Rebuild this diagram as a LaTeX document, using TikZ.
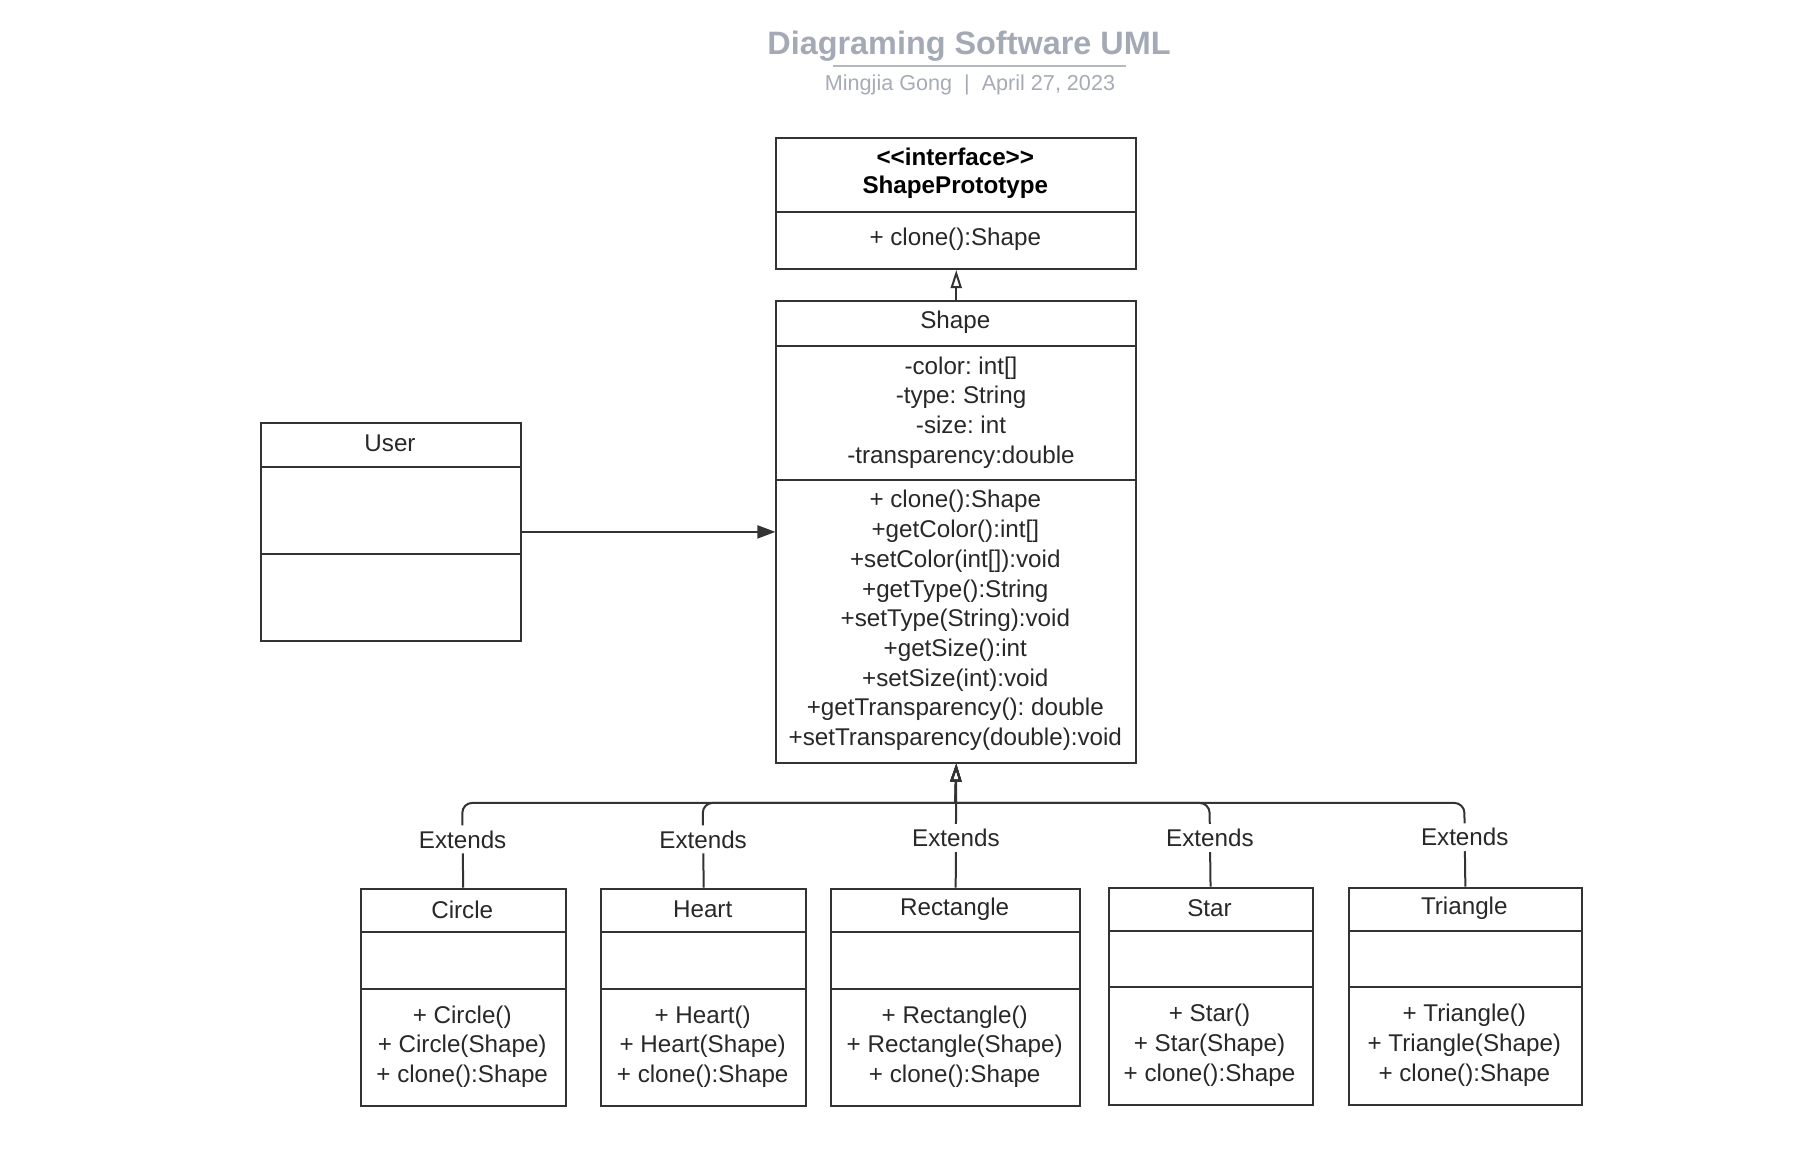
\documentclass[tikz,border=0pt]{standalone}
\usepackage{fontspec}
\setmainfont{Liberation Sans}
\usetikzlibrary{arrows.meta}
\definecolor{linec}{HTML}{333333}
\definecolor{textc}{HTML}{282828}
\definecolor{titlec}{HTML}{A4A9B6}
\definecolor{subc}{HTML}{A7ABB6}
\newcommand{\bodyf}{\fontsize{12.1}{14.85}\selectfont}
\frenchspacing
\begin{document}
\begin{tikzpicture}[x=0.5pt,y=-0.5pt,
  box/.style={draw=linec, line width=1pt, fill=white, inner sep=0pt, anchor=north west, minimum height=108.8pt},
  divl/.style={draw=linec, line width=1pt},
  txt/.style={text=textc, font=\bodyf, align=center, inner sep=0pt},
  lbl/.style={fill=white, text=textc, font=\bodyf, inner sep=2.5pt},
  gen/.style={draw=linec, line width=1pt, -{Triangle[open, length=9pt, width=5.5pt]}},
  genr/.style={draw=linec, line width=1pt, {Triangle[open, length=9pt, width=5.5pt]}-},
  assoc/.style={draw=linec, line width=1pt, -{Triangle[length=9pt, width=6.5pt]}}]
\fill[white] (0,0) rectangle (1796,1175);
\useasboundingbox (0,0) rectangle (1796,1175);
% title
\node[text=titlec, font=\fontsize{16.2}{19}\selectfont\bfseries, inner sep=0pt] (title) at (969,46) {Diagraming Software UML};
\draw[subc!85, line width=1pt] (832.7,66.4) -- (1126,66.4);
\node[text=subc, font=\fontsize{10.8}{13}\selectfont, inner sep=0pt] (sub) at (970,85) {Mingjia Gong\ \ |\ \ April 27, 2023};
% ShapePrototype
\node[box, minimum width=179.85pt, minimum height=65.3pt] (proto) at (775.4,137.4) {};
\draw[divl] (775.4,211.9) -- (1135.1,211.9);
\node[txt, font=\fontsize{12.1}{14.2}\selectfont\bfseries, text=black] (protot) at (955.3,173.5) {<{}<interface>{}>\\ShapePrototype};
\node[txt] (protom) at (955.3,239.5) {+ clone():Shape};
% Shape
\node[box, minimum width=179.85pt, minimum height=230.8pt] (shape) at (775.4,300.1) {};
\draw[divl] (775.4,345.9) -- (1135.1,345.9);
\draw[divl] (775.4,479.9) -- (1135.1,479.9);
\node[txt] (shapet) at (955.3,322) {Shape};
\node[txt] (shapea) at (961,412.5) {-color: int[]\\-type: String\\-size: int\\-transparency:double};
\node[txt] (shapem) at (955.3,620.5) {+ clone():Shape\\+getColor():int[]\\+setColor(int[]):void\\+getType():String\\+setType(String):void\\+getSize():int\\+setSize(int):void\\+getTransparency(): double\\+setTransparency(double):void};
% User
\node[box, minimum width=130pt, minimum height=109.4pt] (user) at (260,421.5) {};
\draw[divl] (260,467.3) -- (520,467.3);
\draw[divl] (260,554.4) -- (520,554.4);
\node[txt] (usert) at (390,443) {User};
% children
\node[box, minimum width=102.5pt] (circle) at (359.7,887.7) {};
\draw[divl] (359.7,932.3) -- (564.7,932.3);
\draw[divl] (359.7,988.5) -- (564.7,988.5);
\node[txt] (circlet) at (462.2,909.5) {Circle};
\node[txt] (circlem) at (462.2,1046.5) {+ Circle()\\+ Circle(Shape)\\+ clone():Shape};
\node[box, minimum width=102.5pt] (heart) at (600.2,887.7) {};
\draw[divl] (600.2,932.3) -- (805.2,932.3);
\draw[divl] (600.2,988.5) -- (805.2,988.5);
\node[txt] (heartt) at (702.7,909.5) {Heart};
\node[txt] (heartm) at (702.7,1046.5) {+ Heart()\\+ Heart(Shape)\\+ clone():Shape};
\node[box, minimum width=124.3pt] (rect) at (830.4,887.7) {};
\draw[divl] (830.4,932.3) -- (1079,932.3);
\draw[divl] (830.4,988.5) -- (1079,988.5);
\node[txt] (rectt) at (954.7,909.5) {Rectangle};
\node[txt] (rectm) at (954.7,1046.5) {+ Rectangle()\\+ Rectangle(Shape)\\+ clone():Shape};
\node[box, minimum width=101.95pt] (star) at (1107.6,886.5) {};
\draw[divl] (1107.6,931.1) -- (1311.5,931.1);
\draw[divl] (1107.6,987.3) -- (1311.5,987.3);
\node[txt] (start) at (1209.5,908.3) {Star};
\node[txt] (starm) at (1209.5,1045.3) {+ Star()\\+ Star(Shape)\\+ clone():Shape};
\node[box, minimum width=116.25pt] (tri) at (1348.1,886.5) {};
\draw[divl] (1348.1,931.1) -- (1580.6,931.1);
\draw[divl] (1348.1,987.3) -- (1580.6,987.3);
\node[txt] (trit) at (1464.3,908.3) {Triangle};
\node[txt] (trim) at (1464.3,1045.3) {+ Triangle()\\+ Triangle(Shape)\\+ clone():Shape};
% connectors
\draw[gen] (shape.north) -- (proto.south);
\draw[assoc] (user.east) -- (shape.west);
\draw[genr] (shape.south) -- (955.3,802.9) [rounded corners=5pt] -- (462.2,802.9) -- node[lbl, pos=0.43] {Extends} (circle.north);
\draw[genr] (shape.south) -- (955.3,802.9) [rounded corners=5pt] -- (702.7,802.9) -- node[lbl, pos=0.43] {Extends} (heart.north);
\draw[genr] (shape.south) -- (955.3,802.9) [rounded corners=5pt] -- (1209.5,802.9) -- node[lbl, pos=0.42] {Extends} (star.north);
\draw[genr] (shape.south) -- (955.3,802.9) [rounded corners=5pt] -- (1464.3,802.9) -- node[lbl, pos=0.41] {Extends} (tri.north);
\draw[gen] (rect.north) -- node[lbl, pos=0.4] {Extends} (shape.south);
\end{tikzpicture}
\end{document}
